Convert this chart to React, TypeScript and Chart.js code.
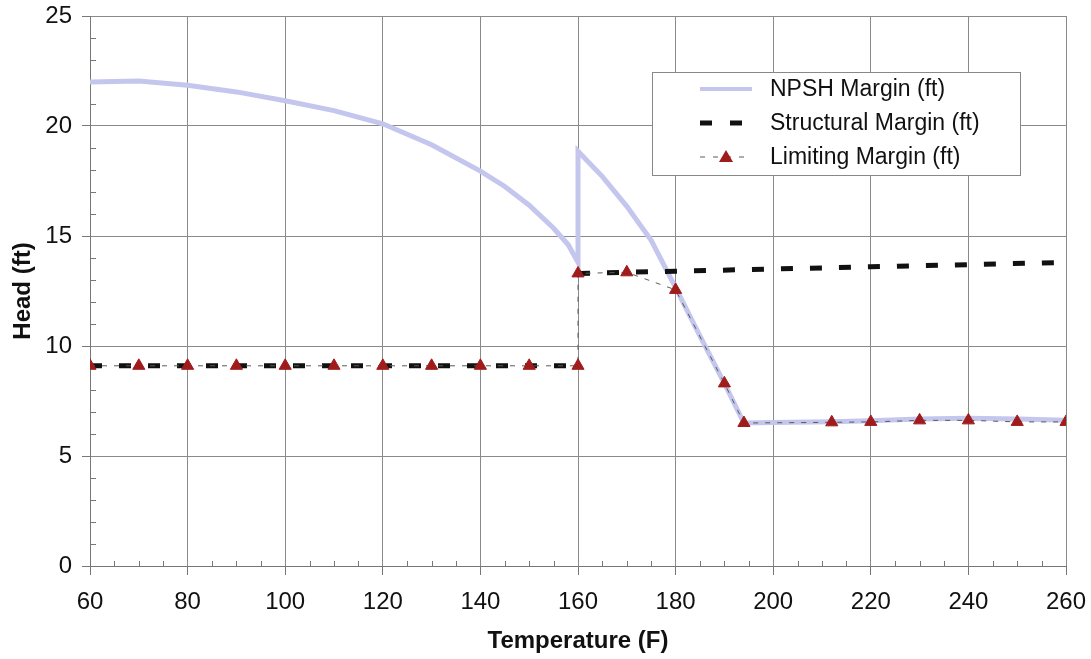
import React, { useEffect, useRef } from "react";
import { Chart, registerables } from "chart.js";

Chart.register(...registerables);

// ---- Data ----
const npshTemps = [60, 70, 80, 90, 100, 110, 120, 130, 140, 145, 150, 155, 158, 160, 160, 165, 170, 175, 180, 185, 190, 194, 200, 212, 220, 230, 240, 250, 260];
const npshValues = [22.0, 22.05, 21.85, 21.55, 21.15, 20.7, 20.1, 19.15, 17.95, 17.25, 16.4, 15.35, 14.6, 13.8, 18.85, 17.7, 16.35, 14.8, 12.65, 10.45, 8.3, 6.5, 6.52, 6.56, 6.6, 6.68, 6.72, 6.68, 6.62];

const structLowTemps = [60, 160];
const structLowValues = [9.1, 9.1];
const structHighTemps = [160, 180, 200, 220, 240, 260];
const structHighValues = [13.3, 13.4, 13.5, 13.6, 13.7, 13.8];

const limitTemps = [60, 70, 80, 90, 100, 110, 120, 130, 140, 150, 160, 160, 170, 180, 190, 194, 212, 220, 230, 240, 250, 260];
const limitValues = [9.1, 9.1, 9.1, 9.1, 9.1, 9.1, 9.1, 9.1, 9.1, 9.1, 9.1, 13.3, 13.35, 12.55, 8.3, 6.5, 6.53, 6.55, 6.62, 6.62, 6.55, 6.55];

const seriesNames = ["NPSH Margin (ft)", "Structural Margin (ft)", "Limiting Margin (ft)"];
const xTitle = "Temperature (F)";
const yTitle = "Head (ft)";

const zip = (xs: number[], ys: (number | null)[]) => xs.map((x, i) => ({ x, y: ys[i] }));

const NPSH_COLOR = "#c4c6ee";
const STRUCT_COLOR = "#111111";
const LIMIT_LINE = "#5a5a5a";
const LIMIT_POINT = "#a01c1c";
const FONT = "'Liberation Sans', Arial, sans-serif";

const minorTicksPlugin = {
  id: "minorTicks",
  beforeDatasetsDraw(chart: any) {
    const { ctx, scales } = chart;
    const xs = scales.x;
    const ys = scales.y;
    ctx.save();
    ctx.strokeStyle = "#777";
    ctx.lineWidth = 1;
    ctx.beginPath();
    for (let v = 0; v <= 25; v += 1) {
      if (v % 5 === 0) continue;
      const py = Math.round(ys.getPixelForValue(v)) + 0.5;
      ctx.moveTo(xs.left, py);
      ctx.lineTo(xs.left + 6, py);
    }
    for (let v = 60; v <= 260; v += 5) {
      if (v % 20 === 0) continue;
      const px = Math.round(xs.getPixelForValue(v)) + 0.5;
      ctx.moveTo(px, ys.bottom);
      ctx.lineTo(px, ys.bottom - 5);
    }
    ctx.stroke();
    ctx.restore();
  },
};

const legendPlugin = {
  id: "customLegend",
  afterDraw(chart: any) {
    const { ctx } = chart;
    const bx = 652;
    const by = 72;
    const bw = 368;
    const bh = 103;
    ctx.save();
    ctx.fillStyle = "#ffffff";
    ctx.fillRect(bx, by, bw, bh);
    ctx.strokeStyle = "#888";
    ctx.lineWidth = 1;
    ctx.strokeRect(bx + 0.5, by + 0.5, bw, bh);
    const rows = [89, 123, 157];
    const sx0 = 700;
    const sx1 = 752;
    // NPSH
    ctx.strokeStyle = NPSH_COLOR;
    ctx.lineWidth = 4;
    ctx.beginPath();
    ctx.moveTo(sx0, rows[0]);
    ctx.lineTo(sx1, rows[0]);
    ctx.stroke();
    // Structural
    ctx.strokeStyle = STRUCT_COLOR;
    ctx.lineWidth = 5;
    ctx.setLineDash([12, 18]);
    ctx.beginPath();
    ctx.moveTo(sx0, rows[1]);
    ctx.lineTo(sx1 - 8, rows[1]);
    ctx.stroke();
    // Limiting
    ctx.strokeStyle = LIMIT_LINE;
    ctx.lineWidth = 1;
    ctx.setLineDash([5, 8]);
    ctx.beginPath();
    ctx.moveTo(sx0, rows[2]);
    ctx.lineTo(sx1, rows[2]);
    ctx.stroke();
    ctx.setLineDash([]);
    ctx.fillStyle = LIMIT_POINT;
    const cx = 726;
    const cy = rows[2];
    ctx.beginPath();
    ctx.moveTo(cx, cy - 7);
    ctx.lineTo(cx + 7, cy + 5);
    ctx.lineTo(cx - 7, cy + 5);
    ctx.closePath();
    ctx.fill();
    // Text
    ctx.fillStyle = "#111";
    ctx.font = `23px ${FONT}`;
    ctx.textBaseline = "middle";
    ctx.textAlign = "left";
    seriesNames.forEach((n, i) => ctx.fillText(n, 770, rows[i] + 1));
    ctx.restore();
  },
};

export default function App() {
  const ref = useRef<HTMLCanvasElement | null>(null);

  useEffect(() => {
    document.body.style.margin = "0";
    const canvas = ref.current;
    if (!canvas) return;
    const structData = [
      ...zip(structLowTemps, structLowValues),
      { x: 160, y: null },
      ...zip(structHighTemps, structHighValues),
    ];
    const chart = new Chart(canvas, {
      type: "line",
      data: {
        datasets: [
          {
            label: seriesNames[0],
            data: zip(npshTemps, npshValues) as any,
            borderColor: NPSH_COLOR,
            borderWidth: 5,
            pointRadius: 0,
            tension: 0,
            order: 3,
          },
          {
            label: seriesNames[1],
            data: structData as any,
            borderColor: STRUCT_COLOR,
            borderWidth: 5,
            borderDash: [12, 17],
            pointRadius: 0,
            spanGaps: false,
            order: 2,
          },
          {
            label: seriesNames[2],
            data: zip(limitTemps, limitValues) as any,
            borderColor: LIMIT_LINE,
            borderWidth: 1,
            borderDash: [5, 7],
            pointStyle: "triangle",
            pointRadius: 7,
            pointBackgroundColor: LIMIT_POINT,
            pointBorderColor: LIMIT_POINT,
            pointBorderWidth: 1,
            order: 1,
          },
        ],
      },
      options: {
        animation: false,
        responsive: false,
        layout: { padding: { top: 16, right: 25, bottom: 0, left: 0 } },
        plugins: {
          legend: { display: false },
          tooltip: { enabled: false },
        },
        scales: {
          x: {
            type: "linear",
            min: 60,
            max: 260,
            ticks: {
              stepSize: 20,
              color: "#111",
              font: { family: FONT, size: 24 },
              padding: 13,
              maxRotation: 0,
            },
            grid: { color: "#8a8a8a", tickLength: 9, tickColor: "#777" },
            border: { color: "#777" },
            title: {
              display: true,
              text: xTitle,
              color: "#111",
              font: { family: FONT, size: 24, weight: "bold" },
              padding: { top: 0, bottom: 3 },
            },
            afterFit: (s: any) => {
              s.height = 93;
              s.paddingLeft = 0;
              s.paddingRight = 0;
            },
          },
          y: {
            type: "linear",
            min: 0,
            max: 25,
            ticks: {
              stepSize: 5,
              color: "#111",
              font: { family: FONT, size: 24 },
              padding: 10,
            },
            grid: { color: "#8a8a8a", tickLength: 8, tickColor: "#777" },
            border: { color: "#777" },
            title: {
              display: true,
              text: yTitle,
              color: "#111",
              font: { family: FONT, size: 24, weight: "bold" },
              padding: { top: 9, bottom: 0 },
            },
            afterFit: (s: any) => {
              s.width = 90;
              s.paddingTop = 0;
              s.paddingBottom = 0;
            },
          },
        },
      },
      plugins: [minorTicksPlugin, legendPlugin],
    });
    return () => chart.destroy();
  }, []);

  return (
    <div style={{ position: "fixed", left: 0, top: 0, width: 1091, height: 659, background: "#fff" }}>
      <canvas ref={ref} width={1091} height={659} style={{ width: 1091, height: 659 }} />
    </div>
  );
}
